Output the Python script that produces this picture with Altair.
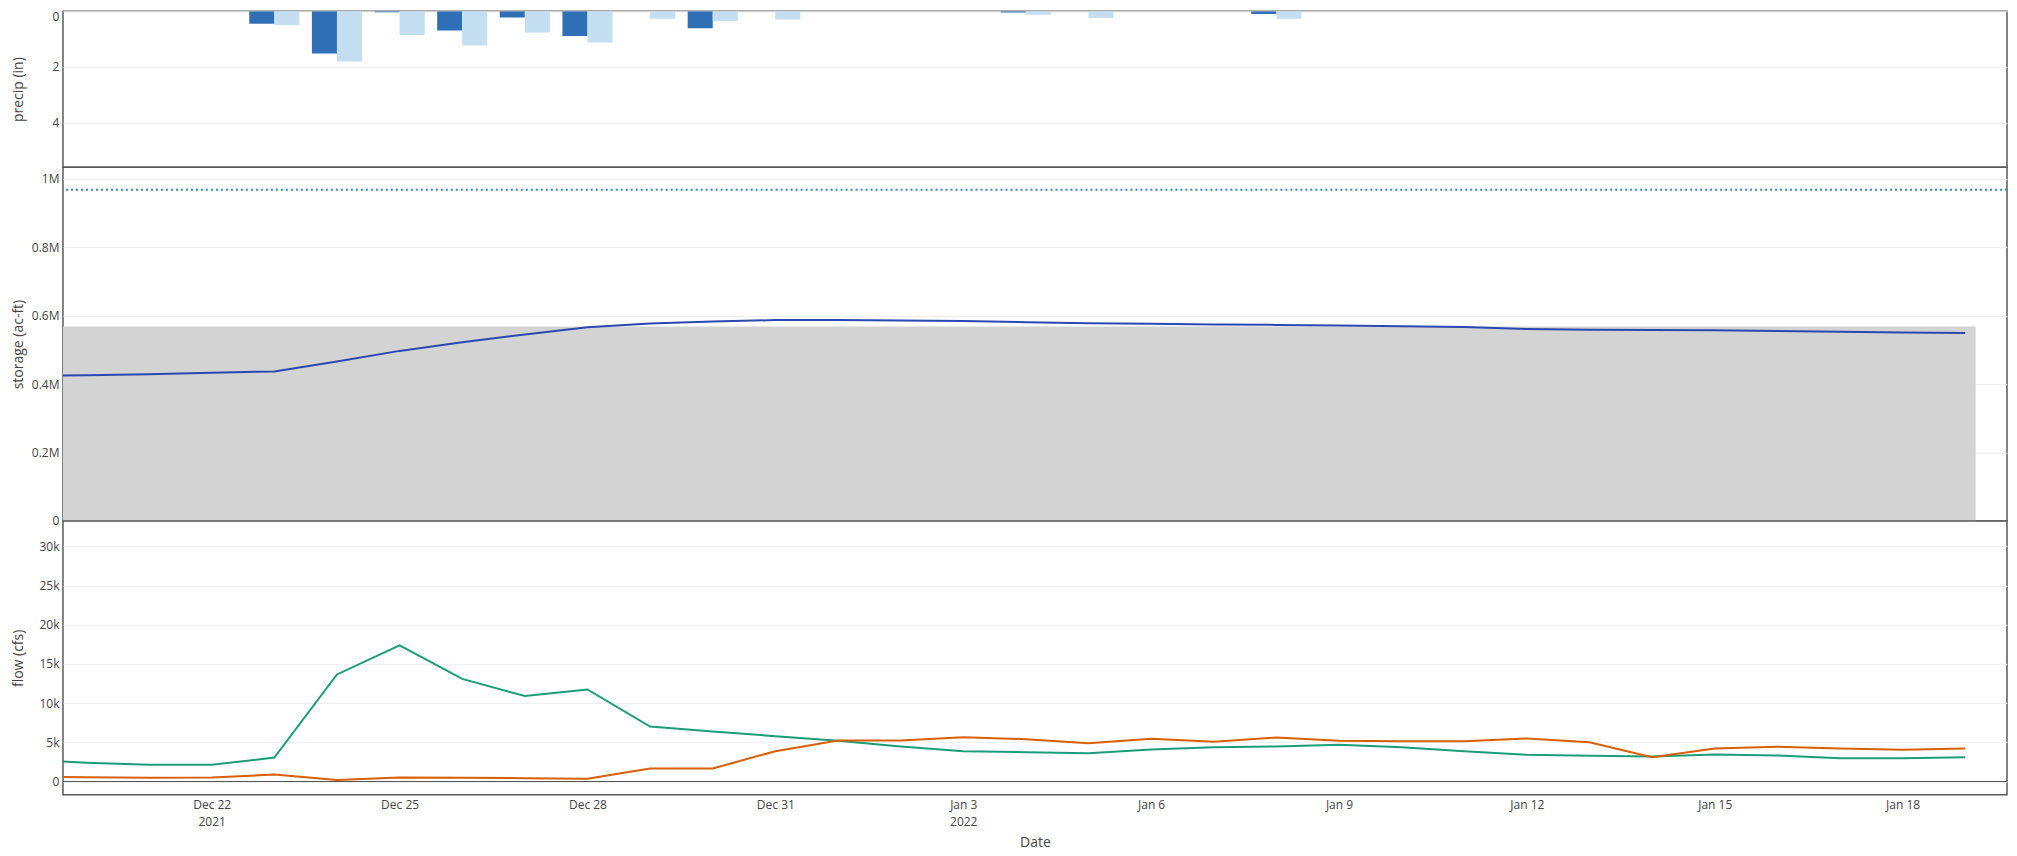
import altair as alt
import pandas as pd

# ---------------- data ----------------
days = ["2021-12-19", "2021-12-20", "2021-12-21", "2021-12-22", "2021-12-23",
        "2021-12-24", "2021-12-25", "2021-12-26", "2021-12-27", "2021-12-28",
        "2021-12-29", "2021-12-30", "2021-12-31", "2022-01-01", "2022-01-02",
        "2022-01-03", "2022-01-04", "2022-01-05", "2022-01-06", "2022-01-07",
        "2022-01-08", "2022-01-09", "2022-01-10", "2022-01-11", "2022-01-12",
        "2022-01-13", "2022-01-14", "2022-01-15", "2022-01-16", "2022-01-17",
        "2022-01-18", "2022-01-19"]

inflow_cfs = [2800, 2390, 2150, 2130, 3060, 13660, 17360, 13100, 10900, 11740,
              7020, 6380, 5780, 5200, 4470, 3870, 3740, 3620, 4090, 4380,
              4470, 4700, 4380, 3870, 3400, 3280, 3190, 3450, 3320, 2980,
              2980, 3100]

outflow_cfs = [650, 550, 470, 510, 890, 200, 500, 470, 420, 350,
               1660, 1660, 3870, 5230, 5230, 5660, 5400, 4890, 5450, 5060,
               5620, 5200, 5150, 5150, 5490, 5020, 3100, 4210, 4430, 4210,
               4040, 4210]

storage_acft = [423000, 426000, 429000, 433000, 437000, 466000, 497000, 522000,
                545000, 566000, 577000, 583000, 587000, 587000, 586000, 584000,
                581000, 578000, 576000, 574000, 573000, 571000, 569000, 567000,
                561000, 559000, 558000, 557000, 555000, 553000, 551000, 549000]

precip_days = ["2021-12-23", "2021-12-24", "2021-12-25", "2021-12-26", "2021-12-27",
               "2021-12-28", "2021-12-29", "2021-12-30", "2021-12-31", "2022-01-01",
               "2022-01-02", "2022-01-03", "2022-01-04", "2022-01-05", "2022-01-06",
               "2022-01-07", "2022-01-08"]
precip_a_in = [0.45, 1.52, 0.04, 0.69, 0.23, 0.89, 0.0, 0.61, 0.0, 0.0,
               0.0, 0.0, 0.05, 0.0, 0.0, 0.0, 0.10]
precip_b_in = [0.49, 1.80, 0.85, 1.23, 0.76, 1.12, 0.27, 0.35, 0.30, 0.0,
               0.0, 0.0, 0.13, 0.24, 0.0, 0.0, 0.27]

gray_times = ["2021-12-19T00:00:00", "2022-01-19T04:00:00"]
gray_storage = [568000, 568000]

top_conservation = [968000]

tick_days = ["2021-12-22", "2021-12-25", "2021-12-28", "2021-12-31", "2022-01-03",
             "2022-01-06", "2022-01-09", "2022-01-12", "2022-01-15", "2022-01-18"]
year_label_days = ["2021-12-22", "2022-01-03"]

x_range = ["2021-12-19T15:00:00", "2022-01-19T16:00:00"]

precip_ticks = [0, 2, 4]
storage_ticks = [0, 200000, 400000, 600000, 800000, 1000000]
flow_ticks = [0, 5000, 10000, 15000, 20000, 25000, 30000]

# ---------------- helpers ----------------
def iso(d):
    return (d if "T" in d else d + "T00:00:00") + "Z"


def ms(d):
    return int(pd.Timestamp(iso(d)).value // 10**6)


FONT = "Open Sans"
TXT = "#444444"
W = 1945

xscale = alt.Scale(type="utc", domain=[ms(x_range[0]), ms(x_range[1])])

year_arr = "[" + ",".join("'%s'" % d for d in year_label_days) + "]"
label_expr = (
    "indexof(" + year_arr + ", utcFormat(datum.value, '%Y-%m-%d')) >= 0 ? "
    "[utcFormat(datum.value, '%b %-d'), utcFormat(datum.value, '%Y')] : "
    "utcFormat(datum.value, '%b %-d')"
)

x_axis = alt.Axis(values=[ms(d) for d in tick_days], labelExpr=label_expr,
                  title="Date", grid=False, ticks=False, domain=False,
                  labelPadding=5, labelLineHeight=16.5, labelOverlap=False,
                  labelAlign="center", labelBaseline="top", titlePadding=8)


def yaxis(title, values, **kw):
    return alt.Axis(title=title, values=values, labelPadding=4, minExtent=33,
                    maxExtent=33, titlePadding=4, **kw)


# ---------------- precipitation panel ----------------
precip_df = pd.DataFrame({"date": [iso(d) for d in precip_days],
                          "a": precip_a_in, "b": precip_b_in})
p_scale = alt.Scale(domain=[0, 5.59], reverse=True)
p_axis = yaxis("precip (in)", precip_ticks, labelFlush=True)

p_base = alt.Chart(precip_df).transform_calculate(
    t1="time(toDate(datum.date))"
).transform_calculate(
    t0="datum.t1 - 0.4*86400000",
    t2="datum.t1 + 0.4*86400000",
)
bars_a = p_base.mark_rect(color="#2f6fb5", clip=True).encode(
    x=alt.X("t0:T", scale=xscale, axis=None), x2="t1:T",
    y=alt.Y("a:Q", scale=p_scale, axis=p_axis), y2=alt.datum(0))
bars_b = p_base.mark_rect(color="#c4def2", clip=True).encode(
    x=alt.X("t1:T", scale=xscale, axis=None), x2="t2:T",
    y=alt.Y("b:Q", scale=p_scale, axis=p_axis), y2=alt.datum(0))
precip_panel = alt.layer(bars_a, bars_b).properties(width=W, height=156)

# ---------------- storage panel ----------------
s_scale = alt.Scale(domain=[0, 1034000], nice=False)
s_axis = yaxis("storage (ac-ft)", storage_ticks,
               labelExpr="datum.value == 0 ? '0' : format(datum.value/1e6, '~g') + 'M'")
gray_df = pd.DataFrame({"date": [iso(d) for d in gray_times], "v": gray_storage})
stor_df = pd.DataFrame({"date": [iso(d) for d in days], "v": storage_acft})
cons_df = pd.DataFrame({"v": top_conservation})

gray_area = alt.Chart(gray_df).mark_area(color="#d3d3d3", clip=True).encode(
    x=alt.X("date:T", scale=xscale, axis=None),
    y=alt.Y("v:Q", scale=s_scale, axis=s_axis))
cons_rule = alt.Chart(cons_df).mark_rule(color="#3a84c6", strokeWidth=2,
                                         strokeDash=[2, 3]).encode(
    y=alt.Y("v:Q", scale=s_scale, axis=s_axis))
stor_line = alt.Chart(stor_df).mark_line(color="#2c46b2", strokeWidth=2,
                                         clip=True).encode(
    x=alt.X("date:T", scale=xscale, axis=None),
    y=alt.Y("v:Q", scale=s_scale, axis=s_axis))
storage_panel = alt.layer(gray_area, cons_rule, stor_line).properties(width=W, height=354)

# ---------------- flow panel ----------------
f_scale = alt.Scale(domain=[-1700, 33250], nice=False, zero=False)
f_axis = yaxis("flow (cfs)", flow_ticks,
               labelExpr="datum.value == 0 ? '0' : format(datum.value, '~s')")
flow_df = pd.DataFrame({"date": [iso(d) for d in days],
                        "inflow": inflow_cfs, "outflow": outflow_cfs})
zero_df = pd.DataFrame({"v": [0]})

zero_rule = alt.Chart(zero_df).mark_rule(color="#555555", strokeWidth=1.2).encode(
    y=alt.Y("v:Q", scale=f_scale, axis=f_axis))
in_line = alt.Chart(flow_df).mark_line(color="#1b9e77", strokeWidth=2, clip=True).encode(
    x=alt.X("date:T", scale=xscale, axis=x_axis),
    y=alt.Y("inflow:Q", scale=f_scale, axis=f_axis))
out_line = alt.Chart(flow_df).mark_line(color="#d95f02", strokeWidth=2, clip=True).encode(
    x=alt.X("date:T", scale=xscale, axis=x_axis),
    y=alt.Y("outflow:Q", scale=f_scale, axis=f_axis))
flow_panel = alt.layer(zero_rule, in_line, out_line).properties(width=W, height=274)

chart = alt.vconcat(precip_panel, storage_panel, flow_panel, spacing=0,
                    bounds="flush").resolve_scale(y="independent").properties(
    padding={"left": 3, "top": 1, "right": 0, "bottom": 0}
).configure_view(
    stroke="#5a5a5a", strokeWidth=1.5
).configure_axis(
    labelFont=FONT, titleFont=FONT, labelColor=TXT, titleColor=TXT,
    labelFontSize=12, titleFontSize=14, titleFontWeight="normal",
    gridColor="#eeeeee", gridWidth=1, domain=False, ticks=False
)

chart.save("out.html", embed_options={"renderer": "svg", "actions": False})
